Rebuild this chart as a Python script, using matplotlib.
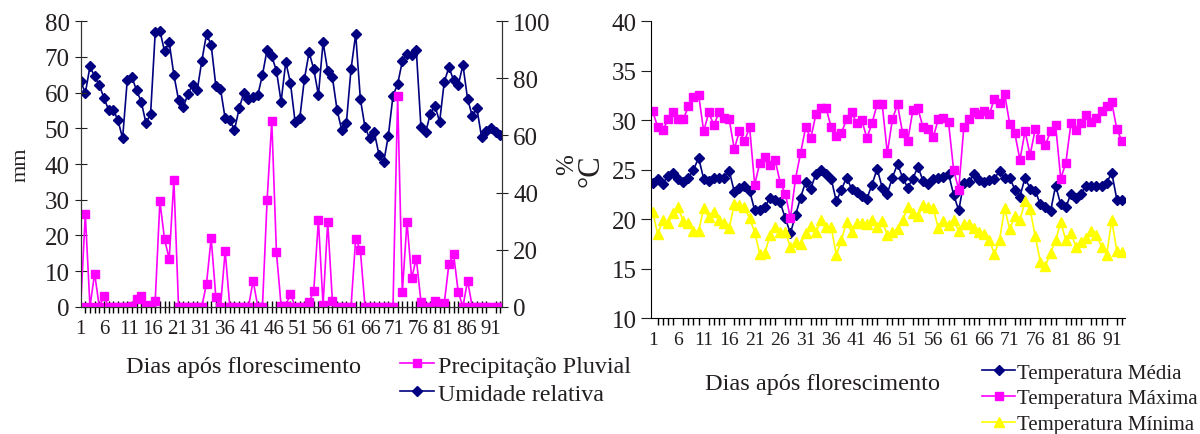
import numpy as np
import matplotlib.pyplot as plt
from matplotlib.ticker import MultipleLocator, FixedLocator

plt.rcParams['font.family'] = ['Liberation Serif', 'DejaVu Serif']

# precipitacao (mm) e umidade relativa (%) - grafico da esquerda
precipitacao = [0, 26, 0, 9.3, 0, 2.9, 0, 0, 0, 0,
                0, 0.3, 2.2, 3, 0.5, 0, 1.7, 29.5, 18.9, 13.4,
                35.5, 0, 0, 0, 0, 0, 0, 6.5, 19.2, 2.7,
                0, 15.6, 0, 0, 0, 0, 0, 7.3, 0, 0,
                30, 52, 15.2, 0.3, 0.3, 3.7, 0, 0, 0, 1.4,
                4.3, 24.3, 0.5, 23.8, 1.7, 0, 0, 0, 0, 19.1,
                15.8, 0, 0, 0, 0, 0, 0, 0, 59, 4.1,
                23.8, 8, 13.5, 1.4, 0, 0, 1.7, 0.5, 1, 12,
                14.7, 4.1, 0, 7.3, 0, 0, 0, 0, 0, 0, 0]
umidade = [79.2, 74.8, 84.2, 80.7, 77.7, 73.1, 69.0, 69.0, 65.4, 59.0,
           79.4, 80.4, 75.8, 71.8, 64.4, 67.4, 96.1, 96.7, 89.5, 92.6,
           81.2, 72.5, 69.9, 74.4, 77.7, 75.8, 86.2, 95.5, 91.7, 77.4,
           76.3, 66.0, 65.4, 61.9, 69.5, 74.9, 72.8, 73.6, 74.2, 81.2,
           90.1, 87.7, 82.7, 71.8, 85.8, 78.4, 64.8, 66.0, 79.8, 89.1,
           83.3, 74.2, 92.6, 82.7, 80.4, 69.0, 61.9, 64.4, 83.3, 95.5,
           72.8, 62.9, 59.0, 61.1, 53.2, 50.6, 59.9, 73.9, 78.0, 86.0,
           88.5, 88.3, 89.9, 62.9, 61.1, 67.5, 70.4, 64.8, 78.8, 83.9,
           79.4, 77.7, 84.7, 72.8, 66.9, 69.5, 59.4, 61.7, 62.5, 61.3, 60.2]
rotulos_esq = ['1', '6', '11', '16', '21', '31', '36', '41', '46', '51',
               '56', '61', '66', '71', '76', '81', '86', '91']

# temperaturas (graus C) - grafico da direita
temp_media = [23.7, 24.1, 23.6, 24.4, 24.7, 24.1, 23.8, 24.2, 25.0, 26.2,
              24.1, 23.9, 24.2, 24.2, 24.2, 24.9, 22.8, 23.2, 23.4, 22.9,
              20.9, 20.9, 21.2, 22.2, 21.9, 21.7, 20.1, 18.6, 20.4, 22.2,
              23.8, 23.1, 24.6, 25.0, 24.6, 24.1, 21.8, 23.0, 24.2, 23.1,
              22.8, 22.4, 22.1, 23.5, 25.1, 23.2, 22.6, 24.2, 25.6, 24.2,
              23.2, 24.1, 25.3, 23.9, 23.6, 24.1, 24.2, 24.3, 24.6, 22.5,
              20.9, 23.7, 23.8, 24.6, 24.0, 23.8, 24.0, 24.1, 24.9, 24.2,
              24.2, 23.0, 22.3, 24.2, 23.1, 22.9, 21.5, 21.2, 20.8, 23.4,
              21.5, 21.2, 22.6, 22.2, 22.6, 23.4, 23.4, 23.4, 23.4, 23.7,
              24.7, 22.0, 22.0]
temp_maxima = [30.9, 29.3, 29.0, 30.1, 30.8, 30.1, 30.1, 31.4, 32.4, 32.6,
               28.9, 30.8, 29.5, 30.8, 30.2, 30.1, 27.1, 28.9, 27.9, 29.3,
               23.5, 25.7, 26.3, 25.5, 26.0, 23.7, 22.6, 20.1, 24.1, 26.7,
               29.3, 28.2, 30.6, 31.2, 31.2, 29.3, 28.4, 28.7, 30.1, 30.8,
               29.7, 30.0, 28.2, 29.7, 31.6, 31.6, 26.7, 30.1, 31.6, 28.7,
               27.9, 31.0, 31.2, 29.3, 29.1, 28.3, 30.1, 30.2, 29.8, 25.0,
               23.0, 29.3, 30.1, 30.8, 30.6, 30.9, 30.6, 32.2, 31.7, 32.7,
               29.6, 28.7, 26.0, 28.9, 26.5, 29.1, 28.1, 27.5, 28.9, 29.5,
               24.1, 25.7, 29.7, 29.0, 29.7, 30.5, 29.8, 30.2, 30.9, 31.4,
               31.8, 29.1, 27.9]
temp_minima = [20.7, 18.5, 19.9, 19.6, 20.6, 21.2, 19.8, 19.6, 18.8, 18.8,
               21.1, 20.2, 20.7, 19.9, 19.6, 19.1, 21.5, 21.4, 21.2, 20.1,
               18.7, 16.5, 16.6, 18.4, 19.2, 18.7, 18.7, 17.2, 17.7, 17.5,
               18.6, 19.3, 18.7, 19.9, 19.2, 19.2, 16.4, 17.9, 19.7, 18.7,
               19.6, 19.6, 19.5, 19.9, 19.2, 19.8, 18.4, 18.7, 19.0, 19.9,
               21.2, 20.6, 20.3, 21.4, 21.2, 21.1, 19.1, 19.8, 19.4, 19.9,
               18.8, 19.5, 19.5, 19.1, 18.7, 18.5, 17.9, 16.5, 17.9, 21.1,
               19.0, 20.3, 19.9, 21.8, 21.0, 18.3, 15.7, 15.3, 16.6, 17.9,
               19.7, 17.9, 18.6, 17.2, 17.7, 18.1, 18.8, 18.4, 17.2, 16.4,
               19.9, 16.8, 16.7]
rotulos_dir = [str(d) for d in range(1, 92, 5)]

dias_esq = np.arange(1, len(precipitacao) + 1)
dias_dir = np.arange(1, len(temp_media) + 1)

cor_texto = '#231F20'
magenta = '#FF00FF'
azul = '#000080'
amarelo = '#FFFF00'

fig = plt.figure(figsize=(12, 4.35), dpi=100)

# ---- grafico da esquerda ----
ax = fig.add_axes([0.0672, 0.2926, 0.3512, 0.6561])
ax2 = ax.twinx()
ax.set_zorder(ax2.get_zorder() + 1)
ax.patch.set_visible(False)

l2, = ax2.plot(dias_esq, umidade, color=azul, marker='D', ms=5.5, lw=1.2,
               label='Umidade relativa')
l1, = ax.plot(dias_esq, precipitacao, color=magenta, marker='s', ms=6, lw=1.2,
              label='Precipitação Pluvial')

ax.set_xlim(1, 91.4)
ax.set_ylim(0, 80)
ax2.set_ylim(0, 100)
ax.yaxis.set_major_locator(MultipleLocator(10))
ax2.yaxis.set_major_locator(MultipleLocator(20))
ax.xaxis.set_major_locator(FixedLocator(np.linspace(1, 89, len(rotulos_esq))))
ax.set_xticklabels(rotulos_esq)
ax.xaxis.set_minor_locator(MultipleLocator(1))
ax.tick_params(axis='x', which='major', length=0, labelsize=15, pad=9, colors=cor_texto)
ax.tick_params(axis='x', which='minor', length=8, direction='inout', width=1)
ax.tick_params(axis='y', length=9, direction='inout', labelsize=18, colors=cor_texto)
ax2.tick_params(axis='y', length=9, direction='inout', labelsize=18, colors=cor_texto)
for a in (ax, ax2):
    a.spines['top'].set_visible(False)
    for s in ('left', 'right', 'bottom'):
        a.spines[s].set_color('#333333')
ax.set_ylabel('mm', fontsize=16, color=cor_texto, labelpad=10)
ax2.set_ylabel('%', fontsize=18, color=cor_texto, labelpad=4)
fig.text(243 / 1200, 1 - 368 / 435, 'Dias após florescimento', fontsize=17.5,
         color=cor_texto, ha='center', va='center')
fig.legend(handles=[l1, l2], loc='upper left', bbox_to_anchor=(400 / 1200, 1 - 356 / 435),
           frameon=False, fontsize=17.3, handlelength=1.4, handletextpad=0.2,
           labelspacing=0.25, borderaxespad=0, borderpad=0, labelcolor=cor_texto)

# ---- grafico da direita ----
bx = fig.add_axes([0.5425, 0.266, 0.395, 0.6827])
h1, = bx.plot(dias_dir, temp_media, color=azul, marker='D', ms=5.5, lw=1.2,
              label='Temperatura Média')
h2, = bx.plot(dias_dir, temp_maxima, color=magenta, marker='s', ms=6, lw=1.2,
              label='Temperatura Máxima')
h3, = bx.plot(dias_dir, temp_minima, color=amarelo, marker='^', ms=7, lw=1.2,
              label='Temperatura Mínima')
bx.set_xlim(0.67, 93.6)
bx.set_ylim(10, 40)
bx.yaxis.set_major_locator(MultipleLocator(5))
bx.xaxis.set_major_locator(FixedLocator(range(1, 92, 5)))
bx.set_xticklabels(rotulos_dir)
bx.xaxis.set_minor_locator(MultipleLocator(1))
bx.tick_params(axis='x', which='major', length=0, labelsize=14, pad=9, colors=cor_texto)
bx.tick_params(axis='x', which='minor', length=5, direction='out', width=1)
bx.tick_params(axis='y', length=7, direction='out', labelsize=18, colors=cor_texto)
bx.spines['top'].set_visible(False)
bx.spines['right'].set_visible(False)
bx.set_ylabel('°C', fontsize=22, color=cor_texto, labelpad=4)
fig.text(822 / 1200, 1 - 385 / 435, 'Dias após florescimento', fontsize=17.5,
         color=cor_texto, ha='center', va='center')
fig.legend(handles=[h1, h2, h3], loc='upper left', bbox_to_anchor=(982 / 1200, 1 - 364 / 435),
           frameon=False, fontsize=15, handlelength=1.6, handletextpad=0.1,
           labelspacing=0.3, borderaxespad=0, borderpad=0, labelcolor=cor_texto)

fig.savefig('out.png', dpi=100)
